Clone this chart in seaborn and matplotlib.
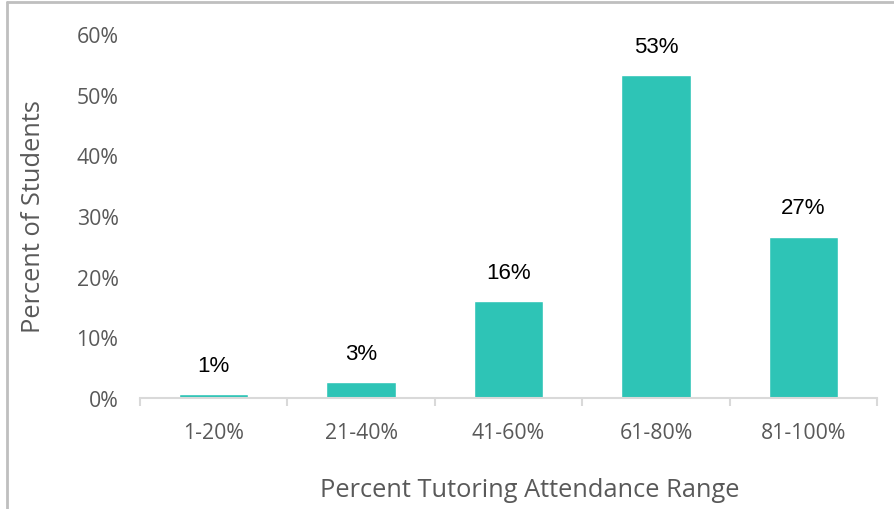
import matplotlib
matplotlib.use("Agg")
import matplotlib.pyplot as plt
from matplotlib.lines import Line2D
import seaborn as sns
import pandas as pd

# Attendance bands and share of students in each
categories = ["1-20%", "21-40%", "41-60%", "61-80%", "81-100%"]
percent_students = [0.6, 2.6, 16.0, 53.2, 26.6]
y_ticks = [0, 10, 20, 30, 40, 50, 60]

bar_color = "#2EC4B6"
text_gray = "#595959"
line_gray = "#D9D9D9"

sns.set_theme(style="white")
plt.rcParams["font.family"] = ["Open Sans", "DejaVu Sans"]

df = pd.DataFrame({"range": categories, "pct": percent_students})

fig = plt.figure(figsize=(8.94, 5.10), dpi=100)
ax = fig.add_axes([0.1566, 0.2176, 0.981 - 0.1566, 0.9314 - 0.2176])

sns.barplot(data=df, x="range", y="pct", color=bar_color, width=0.47,
            saturation=1, ax=ax)

ax.set_ylim(0, 60)
ax.set_xlim(-0.5, len(categories) - 0.5)
ax.set_yticks(y_ticks)
ax.set_yticklabels([f"{t}%" for t in y_ticks])

# Value labels above each bar
for i, v in enumerate(percent_students):
    ax.text(i, v + 3.0, f"{v:.0f}%", ha="center", va="bottom",
            fontsize=16, color="black",
            family=["Liberation Sans", "DejaVu Sans"])

for s in ["top", "right", "left"]:
    ax.spines[s].set_visible(False)
ax.spines["bottom"].set_color(line_gray)
ax.spines["bottom"].set_linewidth(1.5)

ax.tick_params(axis="y", length=0, pad=15.5, labelsize=15.3, labelcolor=text_gray)
ax.tick_params(axis="x", which="major", length=0, pad=17, labelsize=15.3,
               labelcolor=text_gray)
ax.set_xticks([i - 0.5 for i in range(len(categories) + 1)], minor=True)
ax.tick_params(axis="x", which="minor", length=6, width=1.5, color=line_gray,
               bottom=True)

ax.set_xlabel("Percent Tutoring Attendance Range", fontsize=18.3,
              color=text_gray, labelpad=25)
ax.xaxis.label.set_x(0.529)
ax.set_ylabel("Percent of Students", fontsize=18.3, color=text_gray,
              labelpad=22)

# Frame lines along the top and left edges of the figure
frame_color = "#BFBFBF"
fig.add_artist(Line2D([7 / 894, 1.0], [1 - 3 / 510, 1 - 3 / 510],
                      transform=fig.transFigure, color=frame_color, lw=2))
fig.add_artist(Line2D([7 / 894, 7 / 894], [0, 1 - 3 / 510],
                      transform=fig.transFigure, color=frame_color, lw=2))

fig.savefig("out.png", dpi=100)
